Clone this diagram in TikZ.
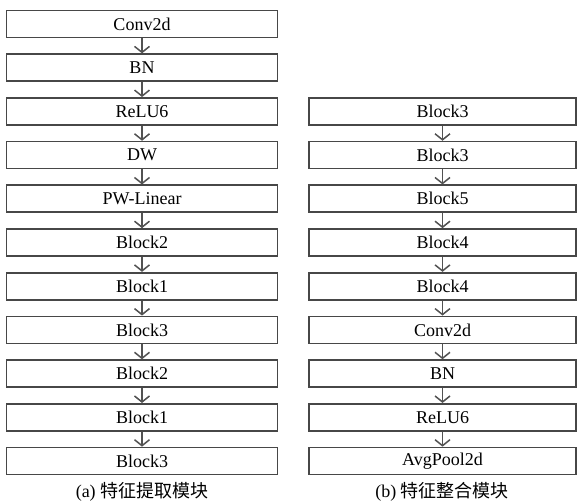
\documentclass[tikz,border=0pt]{standalone}
\usepackage{fontspec}
\setmainfont{Liberation Serif}
\newfontfamily\cjk{Noto Sans CJK SC}
\usetikzlibrary{arrows.meta}
\begin{document}
\begin{tikzpicture}[x=1pt,y=-1pt,
  blk/.style={draw=black!72,line width=1.7pt,fill=white,minimum height=27pt,inner sep=0pt,font=\fontsize{18}{18}\selectfont},
  lblk/.style={blk,minimum width=271pt},
  rblk/.style={blk,minimum width=267pt},
  arr/.style={draw=black!68,line width=1.5pt,-{Straight Barb[length=6pt,width=15pt,line width=1.5pt]}},
  captxt/.style={font=\fontsize{18}{18}\selectfont}]
\useasboundingbox (0,0) rectangle (578,503);
\foreach \t [count=\i from 0] in {Conv2d,BN,ReLU6,DW,PW-Linear,Block2,Block1,Block3,Block2,Block1,Block3}{
  \node[lblk] (L\i) at (142,{24+43.7*\i}) {\t};
}
\foreach \t [count=\i from 2] in {Block3,Block3,Block5,Block4,Block4,Conv2d,BN,ReLU6,AvgPool2d}{
  \node[rblk] (R\i) at (442.5,{24+43.7*\i}) {\t};
}
\foreach \i [evaluate=\i as \j using int(\i+1)] in {0,...,9}{
  \draw[arr] (L\i.south) -- (L\j.north);
}
\foreach \i [evaluate=\i as \j using int(\i+1)] in {2,...,9}{
  \draw[arr] (R\i.south) -- (R\j.north);
}
\node[captxt] (ca) at (142,492) {(a) {\cjk 特征提取模块}};
\node[captxt] (cb) at (442,492) {(b) {\cjk 特征整合模块}};
\end{tikzpicture}
\end{document}
